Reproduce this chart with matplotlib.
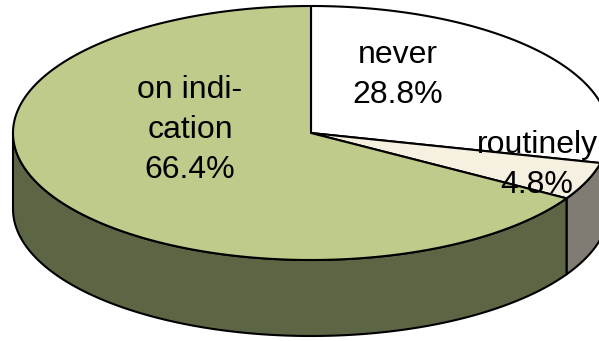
import numpy as np
import matplotlib
matplotlib.use("Agg")
import matplotlib.pyplot as plt
from matplotlib.patches import Polygon

plt.rcParams['font.family'] = ['Liberation Sans', 'DejaVu Sans']

# Slice data, listed clockwise starting from 12 o'clock
labels = ["never", "routinely", "on indi-\ncation"]
shares = [28.8, 4.8, 66.4]
top_colors = ["#FFFFFF", "#F6F0E0", "#BECB8B"]
side_colors = ["#8A8A8A", "#807C74", "#5D6644"]

# Pie geometry in pixel units (y grows downward)
cx, cy = 311.0, 133.0
rx, ry = 298.0, 127.0
depth = 76.0

W, H = 599, 341
fig = plt.figure(figsize=(W / 100, H / 100), dpi=100)
ax = fig.add_axes([0, 0, 1, 1])
ax.set_xlim(0, W)
ax.set_ylim(H, 0)
ax.axis("off")


def pt(t, dz=0.0):
    return cx + rx * np.cos(t), cy - ry * np.sin(t) + dz


# slice angle spans (degrees, clockwise from 90)
bounds = []
start = 90.0
for s in shares:
    end = start - s / 100.0 * 360.0
    bounds.append((start, end))
    start = end

# side walls (visible front half: angles between -180 and 0)
for (a0, a1), col in zip(bounds, side_colors):
    for off in (0.0, 360.0):
        l2, h2 = max(min(a0, a1) + off, -180.0), min(max(a0, a1) + off, 0.0)
        if h2 <= l2:
            continue
        t = np.radians(np.linspace(h2, l2, 120))
        xs, ys = pt(t)
        xb, yb = pt(t[::-1], depth)
        poly = np.column_stack([np.concatenate([xs, xb]), np.concatenate([ys, yb])])
        ax.add_patch(Polygon(poly, closed=True, facecolor=col, edgecolor="black",
                             linewidth=1.5, joinstyle="round", zorder=1))

# top faces
for (a0, a1), col in zip(bounds, top_colors):
    t = np.radians(np.linspace(a0, a1, 300))
    xs, ys = pt(t)
    poly = np.column_stack([np.concatenate([[cx], xs]), np.concatenate([[cy], ys])])
    ax.add_patch(Polygon(poly, closed=True, facecolor=col, edgecolor="black",
                         linewidth=1.5, joinstyle="round", zorder=2))

# labels
label_pos = [(398, 75), (537, 165), (190, 130)]
for lab, s, (lx, ly) in zip(labels, shares, label_pos):
    ax.text(lx, ly, f"{lab}\n{s:.1f}%", ha="center", va="center", fontsize=23,
            linespacing=1.45, color="black", zorder=3)

fig.savefig("out.png", dpi=100)
